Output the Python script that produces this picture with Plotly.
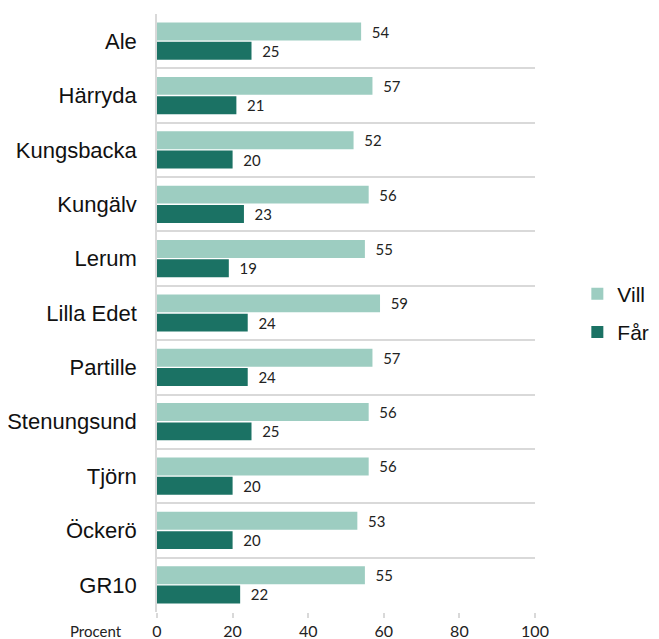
import plotly.graph_objects as go

KOMMUNER = ["Ale", "Härryda", "Kungsbacka", "Kungälv", "Lerum", "Lilla Edet",
            "Partille", "Stenungsund", "Tjörn", "Öckerö", "GR10"]
VILL = [54, 57, 52, 56, 55, 59, 57, 56, 56, 53, 55]
FAR = [25, 21, 20, 23, 19, 24, 24, 25, 20, 20, 22]

LIGHT = "#9dcdc1"
DARK = "#1b7264"
GRID = "#d9d9d9"
NUMFONT = dict(family="Lato, Liberation Sans, sans-serif", size=15, color="#222222")

fig = go.Figure()
fig.add_trace(go.Bar(
    y=KOMMUNER, x=VILL, name="Vill", orientation="h",
    marker=dict(color=LIGHT, line=dict(width=0)),
    texttemplate="  %{x}", textposition="outside", textfont=NUMFONT,
    cliponaxis=False, legendgroup="a",
))
fig.add_trace(go.Bar(
    y=KOMMUNER, x=FAR, name="Får", orientation="h",
    marker=dict(color=DARK, line=dict(width=0)),
    texttemplate="  %{x}", textposition="outside", textfont=NUMFONT,
    cliponaxis=False, legendgroup="b",
))

# page body has an 8px margin, so the figure is a bit smaller than the window
fig.update_layout(
    width=651, height=631,
    margin=dict(l=149, r=124, t=6, b=27, autoexpand=False),
    paper_bgcolor="white", plot_bgcolor="white",
    font=dict(family="Liberation Sans, Arial, sans-serif", color="#111111"),
    barmode="group", bargap=0.29, bargroupgap=0.07,
    showlegend=True,
    legend=dict(x=1.112, xanchor="left", y=0.5, yanchor="middle",
                font=dict(size=21), tracegroupgap=8, traceorder="grouped",
                bgcolor="rgba(0,0,0,0)"),
)
fig.update_yaxes(
    autorange="reversed", type="category", automargin=False,
    tickson="boundaries", showgrid=True, gridcolor=GRID, gridwidth=1.5,
    showline=True, linecolor=GRID, linewidth=1.5,
    ticks="", tickfont=dict(size=22, color="#111111"), ticklabelstandoff=14,
)
fig.update_xaxes(
    range=[0, 100], tickvals=[0, 20, 40, 60, 80, 100], automargin=False,
    showgrid=False, zeroline=False, showline=False,
    ticks="outside", ticklen=5, tickcolor=GRID, tickwidth=1.5,
    tickfont=NUMFONT | dict(size=16),
)
fig.add_annotation(
    text="Procent", xref="paper", yref="paper", x=-0.088, y=0, yshift=-19,
    xanchor="right", yanchor="middle", showarrow=False,
    font=NUMFONT | dict(size=15),
)

fig.write_html("out.html")
